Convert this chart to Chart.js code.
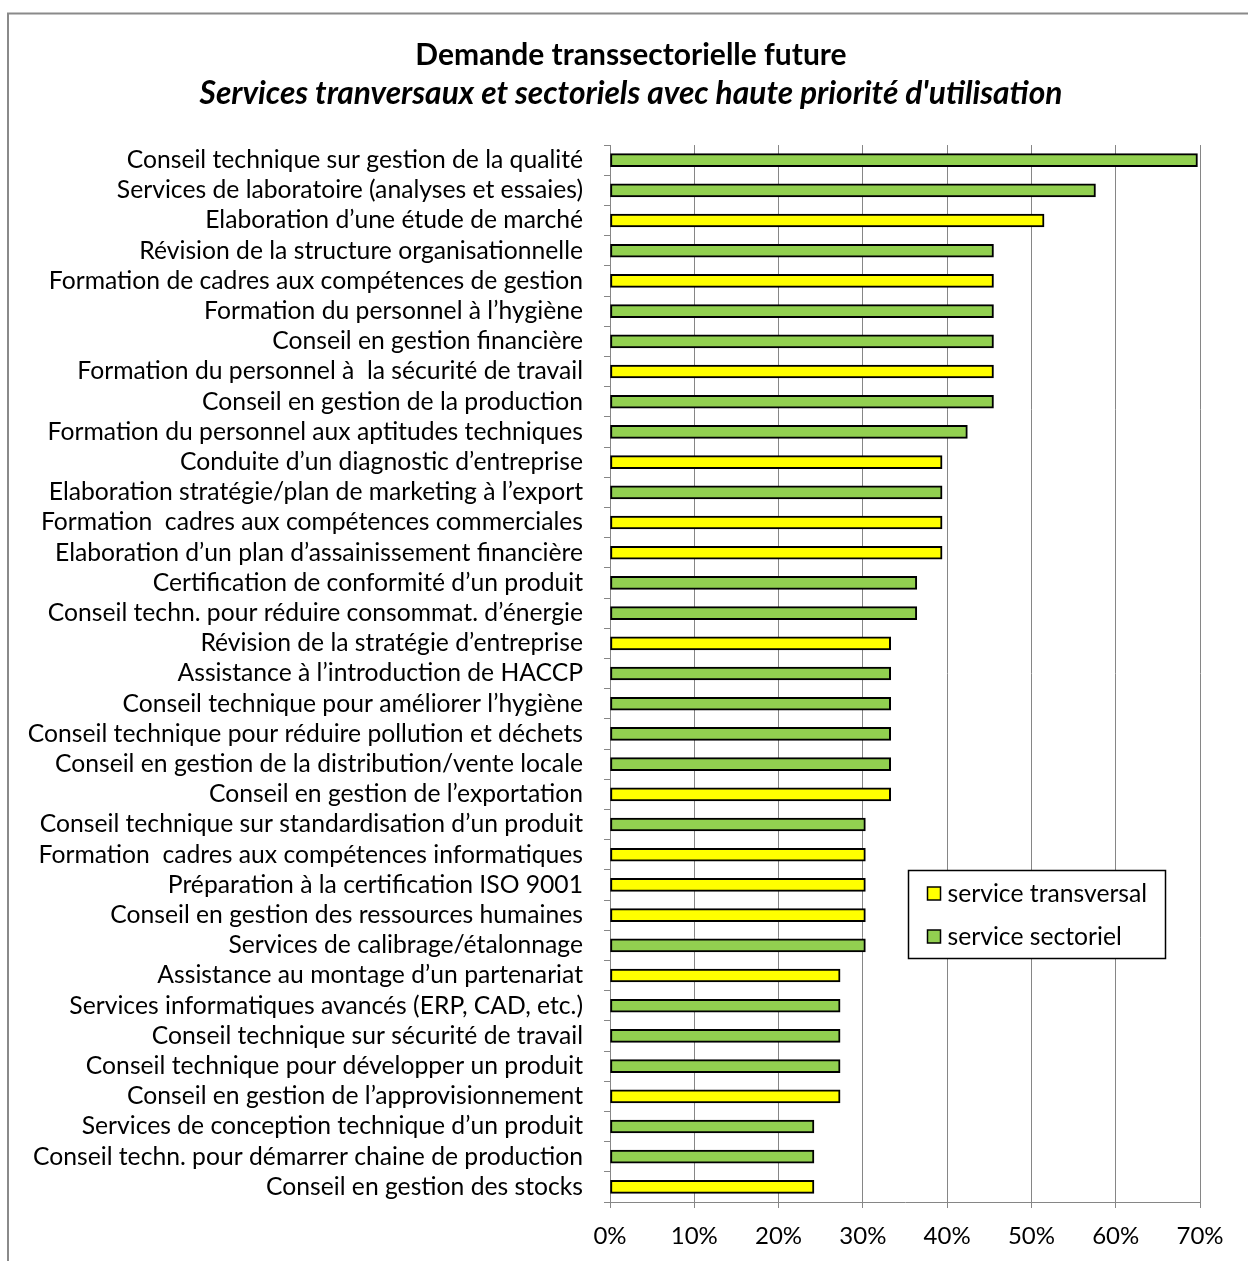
<!DOCTYPE html>
<html><head><meta charset="utf-8">
<script src="https://cdn.jsdelivr.net/npm/chart.js@4.4.0/dist/chart.umd.min.js"></script>
<style>html,body{margin:0;padding:0;background:#fff;overflow:hidden}</style>
</head><body>
<canvas id="c" width="1248" height="1261"></canvas>
<script>
const categories = [
  "Conseil technique sur gestion de la qualité",
  "Services de laboratoire (analyses et essaies)",
  "Elaboration d’une étude de marché",
  "Révision de la structure organisationnelle",
  "Formation de cadres aux compétences de gestion",
  "Formation du personnel à l’hygiène",
  "Conseil en gestion financière",
  "Formation du personnel à  la sécurité de travail",
  "Conseil en gestion de la production",
  "Formation du personnel aux aptitudes techniques",
  "Conduite d’un diagnostic d’entreprise",
  "Elaboration stratégie/plan de marketing à l’export",
  "Formation  cadres aux compétences commerciales",
  "Elaboration d’un plan d’assainissement financière",
  "Certification de conformité d’un produit",
  "Conseil techn. pour réduire consommat. d’énergie",
  "Révision de la stratégie d’entreprise",
  "Assistance à l’introduction de HACCP",
  "Conseil technique pour améliorer l’hygiène",
  "Conseil technique pour réduire pollution et déchets",
  "Conseil en gestion de la distribution/vente locale",
  "Conseil en gestion de l’exportation",
  "Conseil technique sur standardisation d’un produit",
  "Formation  cadres aux compétences informatiques",
  "Préparation à la certification ISO 9001",
  "Conseil en gestion des ressources humaines",
  "Services de calibrage/étalonnage",
  "Assistance au montage d’un partenariat",
  "Services informatiques avancés (ERP, CAD, etc.)",
  "Conseil technique sur sécurité de travail",
  "Conseil technique pour développer un produit",
  "Conseil en gestion de l’approvisionnement",
  "Services de conception technique d’un produit",
  "Conseil techn. pour démarrer chaine de production",
  "Conseil en gestion des stocks"
];
// percentages (null where the service belongs to the other type)
const transversal = [
  null, null, 51.5, null, 45.5, null, null, 45.5, null, null,
  39.4, null, 39.4, 39.4, null, null, 33.3, null, null, null,
  null, 33.3, null, 30.3, 30.3, 30.3, null, 27.3, null, null,
  null, 27.3, null, null, 24.2
];
const sectoriel = [
  69.7, 57.6, null, 45.5, null, 45.5, 45.5, null, 45.5, 42.4,
  null, 39.4, null, null, 36.4, 36.4, null, 33.3, 33.3, 33.3,
  33.3, null, 30.3, null, null, null, 30.3, null, 27.3, 27.3,
  27.3, null, 24.2, 24.2, null
];
const seriesNames = ["service transversal", "service sectoriel"];
const seriesColors = ["#FFFF00", "#92D050"];
const xTickValues = [0, 10, 20, 30, 40, 50, 60, 70];
const titleText = "Demande transsectorielle future";
const subtitleText = "Services tranversaux et sectoriels avec haute priorité d'utilisation";

const FONT = "Lato";
const GRID = "#868686";
const LABEL_SIZE = 24.7;

const framePlugin = {
  id: 'frame',
  beforeDraw(chart) {
    const ctx = chart.ctx;
    ctx.save();
    ctx.fillStyle = '#fff';
    ctx.fillRect(0, 0, chart.width, chart.height);
    ctx.strokeStyle = '#8a8a8a';
    ctx.lineWidth = 2;
    ctx.strokeRect(8, 13.5, chart.width + 20, chart.height + 20);
    ctx.restore();
  }
};

const legendBoxPlugin = {
  id: 'legendBox',
  afterDraw(chart) {
    const ctx = chart.ctx;
    ctx.save();
    const bx = 908.5, by = 870.5, bw = 257, bh = 88;
    ctx.fillStyle = '#fff';
    ctx.fillRect(bx, by, bw, bh);
    ctx.strokeStyle = '#000';
    ctx.lineWidth = 1.5;
    ctx.strokeRect(bx, by, bw, bh);
    ctx.font = LABEL_SIZE + 'px ' + FONT;
    ctx.textBaseline = 'middle';
    ctx.textAlign = 'left';
    chart.data.datasets.forEach((ds, i) => {
      const cy = by + 23 + i * 43;
      ctx.fillStyle = ds.backgroundColor;
      ctx.fillRect(bx + 19, cy - 6.5, 13, 13);
      ctx.strokeStyle = '#000';
      ctx.lineWidth = 1.5;
      ctx.strokeRect(bx + 19, cy - 6.5, 13, 13);
      ctx.fillStyle = '#000';
      ctx.fillText(ds.label, bx + 39, cy + 1);
    });
    ctx.restore();
  }
};

new Chart(document.getElementById('c'), {
  type: 'bar',
  data: {
    labels: categories,
    datasets: [
      { label: seriesNames[0], data: transversal, backgroundColor: seriesColors[0],
        borderColor: '#000', borderWidth: 2, borderSkipped: false, barThickness: 13 },
      { label: seriesNames[1], data: sectoriel, backgroundColor: seriesColors[1],
        borderColor: '#000', borderWidth: 2, borderSkipped: false, barThickness: 13 }
    ]
  },
  options: {
    indexAxis: 'y',
    responsive: false,
    animation: false,
    devicePixelRatio: 1,
    layout: { padding: { left: 14, right: 0, top: 0, bottom: 9 } },
    plugins: {
      legend: { display: false },
      tooltip: { enabled: false },
      title: {
        display: true, text: titleText, color: '#000',
        font: { family: FONT, size: 30, weight: 'bold', lineHeight: 1.2 },
        padding: { top: 37, bottom: 1 }
      },
      subtitle: {
        display: true, text: subtitleText, color: '#000',
        font: { family: FONT, size: 31.7, weight: 'bold', style: 'italic', lineHeight: 1.2 },
        padding: { top: 1, bottom: 32 }
      }
    },
    scales: {
      x: {
        type: 'linear', stacked: true, min: 0, max: 70,
        afterBuildTicks(scale) { scale.ticks = xTickValues.map(v => ({ value: v })); },
        afterFit(scale) { scale.height = 50; },
        ticks: {
          color: '#000', padding: 14,
          font: { family: FONT, size: 24 },
          callback: v => v + '%'
        },
        grid: { color: GRID, lineWidth: 1, tickLength: 6, drawTicks: true },
        border: { color: GRID, width: 1 }
      },
      y: {
        type: 'category', stacked: true,
        afterFit(scale) { scale.width = 596; },
        ticks: {
          color: '#000', padding: 21, autoSkip: false,
          font: { family: FONT, size: LABEL_SIZE }
        },
        grid: { offset: true, drawOnChartArea: false, drawTicks: true, tickLength: 6, color: GRID },
        border: { color: GRID, width: 1 }
      },
      yRight: {
        type: 'category', position: 'right',
        afterFit(scale) { scale.width = 48; },
        ticks: { display: false },
        grid: { display: false, drawTicks: false },
        border: { display: false }
      }
    }
  },
  plugins: [framePlugin, legendBoxPlugin]
});
</script>
</body></html>
